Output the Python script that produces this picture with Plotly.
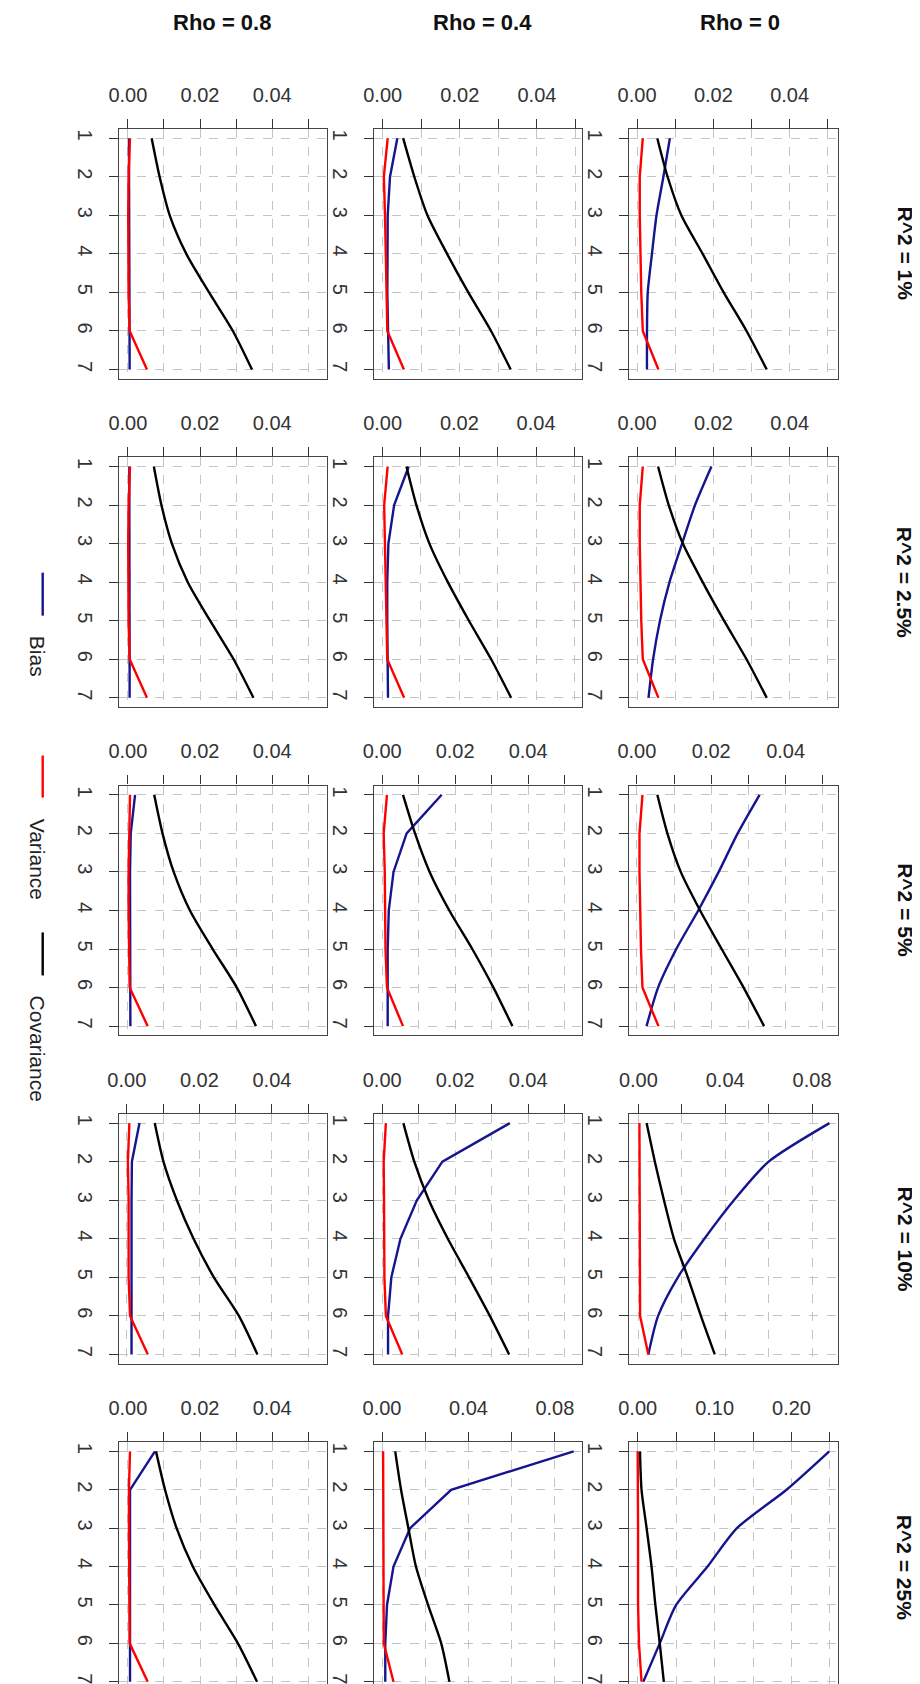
import plotly.graph_objects as go
import numpy as np

W, H = 920, 1684

col_titles = ["Rho = 0.8", "Rho = 0.4", "Rho = 0"]
row_titles = ["R^2 = 1%", "R^2 = 2.5%", "R^2 = 5%", "R^2 = 10%", "R^2 = 25%"]
steps = [1, 2, 3, 4, 5, 6, 7]
series_names = ["Bias", "Variance", "Covariance"]

# ---- data: one list per column (Rho = 0.8, 0.4, 0) for each row ----
bias_r1 = [[0.0003, 0.0003, 0.0003, 0.0003, 0.0005, 0.0005, 0.0005],
           [0.0038, 0.0019, 0.0013, 0.0012, 0.0012, 0.0014, 0.0016],
           [0.0086, 0.0069, 0.0051, 0.0039, 0.0028, 0.0026, 0.0026]]
var_r1 = [[0.0006, 0.0002, 0.0001, 0.0001, 0.0002, 0.0005, 0.0053],
          [0.0013, 0.0003, 0.0006, 0.0008, 0.0010, 0.0012, 0.0055],
          [0.0015, 0.0007, 0.0007, 0.0009, 0.0011, 0.0015, 0.0056]]
cov_r1 = [[0.0066, 0.0088, 0.0116, 0.0162, 0.0225, 0.0291, 0.0344],
          [0.0053, 0.0082, 0.0116, 0.0167, 0.0222, 0.0281, 0.0332],
          [0.0053, 0.0080, 0.0116, 0.0172, 0.0227, 0.0287, 0.0340]]

bias_r2 = [[0.0004, 0.0004, 0.0004, 0.0004, 0.0005, 0.0005, 0.0005],
           [0.0068, 0.0030, 0.0015, 0.0012, 0.0012, 0.0013, 0.0014],
           [0.0195, 0.0152, 0.0118, 0.0085, 0.0060, 0.0042, 0.0030]]
var_r2 = [[0.0006, 0.0002, 0.0001, 0.0001, 0.0002, 0.0005, 0.0053],
          [0.0013, 0.0004, 0.0006, 0.0008, 0.0010, 0.0012, 0.0056],
          [0.0015, 0.0007, 0.0007, 0.0009, 0.0011, 0.0015, 0.0056]]
cov_r2 = [[0.0072, 0.0093, 0.0122, 0.0166, 0.0228, 0.0293, 0.0348],
          [0.0062, 0.0088, 0.0122, 0.0170, 0.0225, 0.0283, 0.0335],
          [0.0055, 0.0083, 0.0120, 0.0172, 0.0228, 0.0287, 0.0340]]

bias_r3 = [[0.0020, 0.0008, 0.0006, 0.0006, 0.0006, 0.0007, 0.0007],
           [0.0163, 0.0067, 0.0031, 0.0018, 0.0015, 0.0015, 0.0015],
           [0.0330, 0.0271, 0.0220, 0.0165, 0.0106, 0.0057, 0.0026]]
var_r3 = [[0.0006, 0.0003, 0.0002, 0.0002, 0.0003, 0.0005, 0.0055],
          [0.0013, 0.0004, 0.0007, 0.0007, 0.0009, 0.0013, 0.0057],
          [0.0015, 0.0007, 0.0007, 0.0009, 0.0011, 0.0015, 0.0058]]
cov_r3 = [[0.0073, 0.0096, 0.0127, 0.0172, 0.0235, 0.0302, 0.0355],
          [0.0057, 0.0090, 0.0130, 0.0184, 0.0247, 0.0305, 0.0357],
          [0.0055, 0.0082, 0.0118, 0.0170, 0.0228, 0.0287, 0.0342]]

bias_r4 = [[0.0035, 0.0014, 0.0013, 0.0013, 0.0013, 0.0013, 0.0013],
           [0.0350, 0.0165, 0.0095, 0.0050, 0.0025, 0.0016, 0.0016],
           [0.0880, 0.0600, 0.0440, 0.0304, 0.0182, 0.0091, 0.0046]]
var_r4 = [[0.0007, 0.0003, 0.0005, 0.0005, 0.0005, 0.0009, 0.0058],
          [0.0010, 0.0004, 0.0005, 0.0005, 0.0006, 0.0010, 0.0055],
          [0.0005, 0.0005, 0.0005, 0.0005, 0.0005, 0.0008, 0.0046]]
cov_r4 = [[0.0077, 0.0101, 0.0138, 0.0184, 0.0240, 0.0309, 0.0360],
          [0.0058, 0.0088, 0.0128, 0.0180, 0.0238, 0.0295, 0.0348],
          [0.0038, 0.0076, 0.0118, 0.0164, 0.0228, 0.0288, 0.0352]]

bias_r5 = [[0.0075, 0.0006, 0.0006, 0.0006, 0.0006, 0.0006, 0.0006],
           [0.0887, 0.0320, 0.0130, 0.0053, 0.0023, 0.0015, 0.0015],
           [0.2490, 0.1935, 0.1290, 0.0908, 0.0500, 0.0287, 0.0073]]
var_r5 = [[0.0006, 0.0003, 0.0003, 0.0003, 0.0003, 0.0005, 0.0055],
          [0.0005, 0.0005, 0.0005, 0.0005, 0.0005, 0.0008, 0.0053],
          [0.0000, 0.0005, 0.0005, 0.0005, 0.0005, 0.0017, 0.0050]]
cov_r5 = [[0.0078, 0.0103, 0.0135, 0.0180, 0.0240, 0.0305, 0.0358],
          [0.0061, 0.0088, 0.0122, 0.0157, 0.0213, 0.0274, 0.0312],
          [0.0030, 0.0050, 0.0116, 0.0180, 0.0230, 0.0287, 0.0340]]

bias_rows = [bias_r1, bias_r2, bias_r3, bias_r4, bias_r5]
var_rows = [var_r1, var_r2, var_r3, var_r4, var_r5]
cov_rows = [cov_r1, cov_r2, cov_r3, cov_r4, cov_r5]

# axis extents per panel (row, col) and tick spacing
xrange_rows = [
    [[-0.0024, 0.0553], [-0.0023, 0.0517], [-0.0020, 0.0526]],
    [[-0.0024, 0.0553], [-0.0023, 0.0520], [-0.0020, 0.0526]],
    [[-0.0024, 0.0553], [-0.0023, 0.0548], [-0.0020, 0.0540]],
    [[-0.0021, 0.0553], [-0.0023, 0.0548], [-0.0041, 0.0918]],
    [[-0.0024, 0.0553], [-0.0038, 0.0926], [-0.0107, 0.2600]],
]
tickstep_rows = [
    [0.01, 0.01, 0.01],
    [0.01, 0.01, 0.01],
    [0.01, 0.01, 0.01],
    [0.01, 0.01, 0.02],
    [0.01, 0.02, 0.05],
]

colors = {"Bias": "#15158f", "Variance": "#ff0000", "Covariance": "#000000"}

col_left = [100.5, 358.5, 617.5]
panel_w = 211.0
row_top = [121.0 + 328.5 * i for i in range(5)]
panel_h = 250.0

FONT = "Liberation Sans, Arial, sans-serif"
fig = go.Figure()
layout = {}

for r in range(5):
    for c in range(3):
        k = r * 3 + c + 1
        xa = "x" if k == 1 else f"x{k}"
        ya = "y" if k == 1 else f"y{k}"
        for name, rows in (("Bias", bias_rows), ("Variance", var_rows), ("Covariance", cov_rows)):
            smooth = name == "Covariance" or (name == "Bias" and c == 2)
            fig.add_trace(go.Scatter(
                x=rows[r][c], y=steps, mode="lines", name=name,
                line=dict(color=colors[name], width=2.4,
                          shape="spline" if smooth else "linear",
                          smoothing=0.7 if smooth else None),
                xaxis=xa, yaxis=ya, showlegend=False, hoverinfo="skip"))
        lo, hi = xrange_rows[r][c]
        st = tickstep_rows[r][c]
        tv = [round(i * st, 4) for i in range(int(np.floor(hi / st + 1e-9)) + 1)]
        tt = [f"{v:.2f}" if i % 2 == 0 else "" for i, v in enumerate(tv)]
        x0 = col_left[c] / W
        x1 = (col_left[c] + panel_w) / W
        y1 = 1 - row_top[r] / H
        y0 = max(0.0, 1 - (row_top[r] + panel_h) / H)
        layout["xaxis" if k == 1 else f"xaxis{k}"] = dict(
            domain=[x0, x1], anchor=ya, side="top", range=[lo, hi],
            tickvals=tv, ticktext=tt, ticks="outside", ticklen=9, tickwidth=1.2,
            tickcolor="#333", showline=True, mirror=True, linecolor="#444",
            linewidth=1.3, showgrid=True, gridcolor="#c4c4c4", griddash="dash",
            gridwidth=1, zeroline=False, ticklabelstandoff=9,
            tickfont=dict(family=FONT, size=20, color="#333"))
        layout["yaxis" if k == 1 else f"yaxis{k}"] = dict(
            domain=[y0, y1], anchor=xa, range=[7.24, 0.76],
            tickvals=steps, ticktext=[str(s) for s in steps], tickangle=90,
            ticks="outside", ticklen=9, tickwidth=1.2, tickcolor="#333",
            showline=True, mirror=True, linecolor="#444", linewidth=1.3,
            showgrid=True, gridcolor="#c4c4c4", griddash="dash", gridwidth=1,
            zeroline=False, ticklabelstandoff=7,
            tickfont=dict(family=FONT, size=20, color="#333"))

annotations = []
col_centers = [205, 469, 730]
for c, t in enumerate(col_titles):
    annotations.append(dict(x=col_centers[c] / W, y=1 - 15 / H, xref="paper", yref="paper",
                            text=f"<b>{t}</b>", showarrow=False, xanchor="center", yanchor="middle",
                            font=dict(family=FONT, size=22, color="#111")))
for r, t in enumerate(row_titles):
    yc = row_top[r] + panel_h / 2
    annotations.append(dict(x=897 / W, y=1 - yc / H, xref="paper", yref="paper",
                            text=f"<b>{t}</b>", showarrow=False, textangle=90,
                            xanchor="center", yanchor="middle",
                            font=dict(family=FONT, size=21, color="#111")))

# legend (rotated), drawn as text + short line keys
legend_text_y = [649, 852, 1041]
legend_key_y = [(565, 608), (748, 790), (925, 968)]
shapes = []
for i, name in enumerate(series_names):
    annotations.append(dict(x=18 / W, y=1 - legend_text_y[i] / H, xref="paper", yref="paper",
                            text=name, showarrow=False, textangle=90,
                            xanchor="center", yanchor="middle",
                            font=dict(family=FONT, size=21, color="#222")))
    ya0, ya1 = legend_key_y[i]
    shapes.append(dict(type="line", xref="paper", yref="paper",
                       x0=23 / W, x1=23 / W, y0=1 - ya0 / H, y1=1 - ya1 / H,
                       line=dict(color=colors[name], width=2.4)))

fig.update_layout(
    width=W, height=H, margin=dict(l=0, r=0, t=0, b=0),
    paper_bgcolor="white", plot_bgcolor="white",
    annotations=annotations, shapes=shapes, showlegend=False, **layout)

fig.write_html("out.html")
